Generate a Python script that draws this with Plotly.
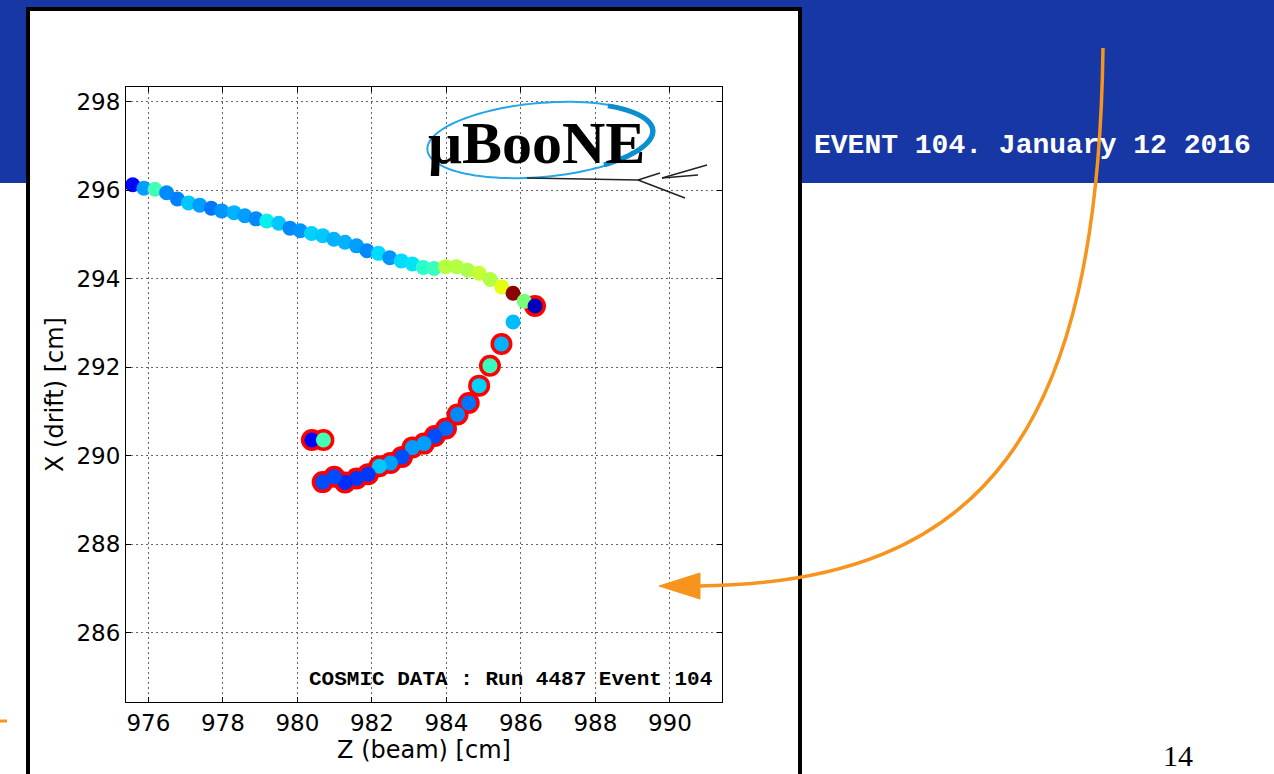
import numpy as np
import plotly.graph_objects as go

W, H = 1274, 774

# ---------------- data ----------------
# plain (non-ringed) hits: Z (beam) [cm], X (drift) [cm], normalised charge
track_z = [975.58, 975.88, 976.18, 976.49, 976.78, 977.08, 977.38, 977.69, 977.97, 978.30,
           978.59, 978.89, 979.18, 979.50, 979.80, 980.08, 980.38, 980.68, 980.98, 981.28,
           981.59, 981.87, 982.18, 982.48, 982.79, 983.09, 983.38, 983.67, 983.98, 984.27,
           984.57, 984.88, 985.18, 985.49, 985.79, 986.09, 985.79]
track_x = [296.12, 296.04, 296.02, 295.94, 295.80, 295.71, 295.66, 295.59, 295.53, 295.49,
           295.42, 295.35, 295.30, 295.25, 295.14, 295.08, 295.02, 294.97, 294.89, 294.82,
           294.74, 294.63, 294.57, 294.47, 294.40, 294.33, 294.25, 294.23, 294.27, 294.27,
           294.19, 294.12, 293.98, 293.81, 293.67, 293.49, 293.02]
track_q = [0.13, 0.28, 0.43, 0.26, 0.25, 0.32, 0.28, 0.24, 0.27, 0.30,
           0.28, 0.26, 0.36, 0.32, 0.26, 0.27, 0.33, 0.32, 0.30, 0.30,
           0.28, 0.26, 0.34, 0.27, 0.34, 0.35, 0.40, 0.42, 0.57, 0.57,
           0.56, 0.59, 0.57, 0.63, 0.99, 0.50, 0.31]

# hits flagged with a red ring
ring_z = [986.38, 985.48, 985.17, 984.88, 984.60, 984.30, 983.99, 983.69, 983.40, 983.09,
          982.81, 982.50, 982.20, 981.90, 981.59, 981.28, 980.99, 980.68, 980.39, 980.70]
ring_x = [293.38, 292.52, 292.03, 291.58, 291.19, 290.93, 290.61, 290.44, 290.27, 290.18,
          289.97, 289.83, 289.76, 289.58, 289.48, 289.39, 289.52, 289.40, 290.35, 290.35]
ring_q = [0.05, 0.30, 0.42, 0.33, 0.24, 0.26, 0.23, 0.20, 0.28, 0.28,
          0.20, 0.28, 0.32, 0.18, 0.18, 0.17, 0.20, 0.20, 0.11, 0.43]

x_ticks = [976, 978, 980, 982, 984, 986, 988, 990]
y_ticks = [286, 288, 290, 292, 294, 296, 298]
x_range = [975.4, 991.4]
y_range = [284.43, 298.33]

# ---------------- matplotlib "jet" colorscale ----------------
stops = [0, 0.11, 0.125, 0.34, 0.35, 0.375, 0.64, 0.65, 0.66, 0.89, 0.91, 1.0]
def jet(v):
    r = np.interp(v, [0, 0.35, 0.66, 0.89, 1], [0, 0, 1, 1, 0.5])
    g = np.interp(v, [0, 0.125, 0.375, 0.64, 0.91, 1], [0, 0, 1, 1, 0, 0])
    b = np.interp(v, [0, 0.11, 0.34, 0.65, 1], [0.5, 1, 1, 0, 0])
    return f"rgb({int(r*255)},{int(g*255)},{int(b*255)})"
jet_scale = [[s, jet(s)] for s in stops]

# ---------------- helpers for pixel-positioned decorations ----------------
def px(x):
    return x / W
def py(y):
    return 1 - y / H

def path_from(points, close=False):
    s = "M " + " L ".join(f"{px(x):.5f},{py(y):.5f}" for x, y in points)
    return s + (" Z" if close else "")

fig = go.Figure()

# red rings (drawn first, underneath)
fig.add_trace(go.Scatter(
    x=ring_z, y=ring_x, mode="markers",
    marker=dict(size=22, color="#ff0000", line=dict(width=0)),
    hoverinfo="skip", showlegend=False))

# coloured hits
fig.add_trace(go.Scatter(
    x=track_z + ring_z, y=track_x + ring_x, mode="markers",
    marker=dict(size=15, color=track_q + ring_q, colorscale=jet_scale,
                cmin=0, cmax=1, line=dict(width=0)),
    showlegend=False))

shapes = []
# blue slide banner
shapes.append(dict(type="rect", xref="paper", yref="paper", x0=0, x1=1,
                   y0=py(183), y1=1, fillcolor="#1737a4", line=dict(width=0), layer="below"))
# white framed panel
shapes.append(dict(type="rect", xref="paper", yref="paper", x0=px(28), x1=px(800),
                   y0=py(790), y1=py(9), fillcolor="white",
                   line=dict(color="black", width=4), layer="below"))

# logo ellipse
t = np.linspace(0, 2 * np.pi, 120)
cx, cy, a, b, rot = 541, 140, 114, 37, np.deg2rad(-5)
ex = cx + a * np.cos(t) * np.cos(rot) - b * np.sin(t) * np.sin(rot)
ey = cy + a * np.cos(t) * np.sin(rot) + b * np.sin(t) * np.cos(rot)
shapes.append(dict(type="path", xref="paper", yref="paper",
                   path=path_from(list(zip(ex, ey)), close=True),
                   line=dict(color="#25a6e6", width=2)))
t2 = np.linspace(-0.9, 1.0, 40)
ex2 = cx + (a - 2) * np.cos(t2) * np.cos(rot) - (b - 1) * np.sin(t2) * np.sin(rot)
ey2 = cy + (a - 2) * np.cos(t2) * np.sin(rot) + (b - 1) * np.sin(t2) * np.cos(rot)
shapes.append(dict(type="path", xref="paper", yref="paper",
                   path=path_from(list(zip(ex2, ey2))),
                   line=dict(color="#0b8fd0", width=5)))

# logo "track" lines
for (x0, y0, x1, y1) in [(527, 178, 638, 180), (638, 180, 685, 198), (638, 180, 660, 173),
                         (662, 178, 707, 165), (662, 178, 698, 175)]:
    shapes.append(dict(type="line", xref="paper", yref="paper",
                       x0=px(x0), y0=py(y0), x1=px(x1), y1=py(y1),
                       line=dict(color="#222222", width=1.5)))

# orange curved arrow
p = [(1103, 48), (1098, 430), (985, 583), (699, 586)]
curve = (f"M {px(p[0][0]):.5f},{py(p[0][1]):.5f} C {px(p[1][0]):.5f},{py(p[1][1]):.5f} "
         f"{px(p[2][0]):.5f},{py(p[2][1]):.5f} {px(p[3][0]):.5f},{py(p[3][1]):.5f}")
shapes.append(dict(type="path", xref="paper", yref="paper", path=curve,
                   line=dict(color="#f7941d", width=3.5)))
shapes.append(dict(type="path", xref="paper", yref="paper",
                   path=path_from([(659, 586), (700, 573), (700, 599)], close=True),
                   fillcolor="#f7941d", line=dict(color="#f7941d", width=1)))
# small orange dash at left
shapes.append(dict(type="line", xref="paper", yref="paper",
                   x0=0, x1=px(7), y0=py(721), y1=py(721),
                   line=dict(color="#f7941d", width=3)))

annotations = [
    dict(text="<b>μBooNE</b>", xref="paper", yref="paper", x=px(536), y=py(143),
         xanchor="center", yanchor="middle", showarrow=False,
         font=dict(family="Liberation Serif", size=60, color="black")),
    dict(text="<b>COSMIC DATA : Run 4487 Event 104</b>", xref="paper", yref="paper",
         x=px(714), y=py(679), xanchor="right", yanchor="middle", showarrow=False,
         font=dict(family="Liberation Mono", size=21, color="black")),
    dict(text="<b>EVENT 104. January 12 2016</b>", xref="paper", yref="paper",
         x=px(812), y=py(145), xanchor="left", yanchor="middle", showarrow=False,
         font=dict(family="Liberation Mono", size=28, color="white")),
    dict(text="14", xref="paper", yref="paper", x=px(1178), y=py(755),
         xanchor="center", yanchor="middle", showarrow=False,
         font=dict(family="Liberation Serif", size=30, color="black")),
]

axis_common = dict(showgrid=True, gridcolor="#666666", griddash="2px,3px", gridwidth=1,
                   showline=True, linecolor="black", linewidth=1, mirror="allticks",
                   ticks="inside", ticklen=5, tickcolor="black", zeroline=False,
                   automargin=False, tickfont=dict(family="DejaVu Sans", size=23, color="black"))

fig.update_layout(
    width=W, height=H,
    margin=dict(l=0, r=0, t=0, b=0),
    paper_bgcolor="white", plot_bgcolor="white",
    xaxis=dict(domain=[px(126), px(722)], range=x_range, tickvals=x_ticks,
               title=dict(text="Z (beam) [cm]", standoff=5,
                          font=dict(family="DejaVu Sans", size=24, color="black")),
               **axis_common),
    yaxis=dict(domain=[py(702), py(87)], range=y_range, tickvals=y_ticks,
               title=dict(text="X (drift) [cm]", standoff=6,
                          font=dict(family="DejaVu Sans", size=24, color="black")),
               **axis_common),
    shapes=shapes, annotations=annotations,
)

fig.write_html("out.html", config={"displayModeBar": False},
               post_script="document.body.style.margin='0';document.body.style.overflow='hidden';")
